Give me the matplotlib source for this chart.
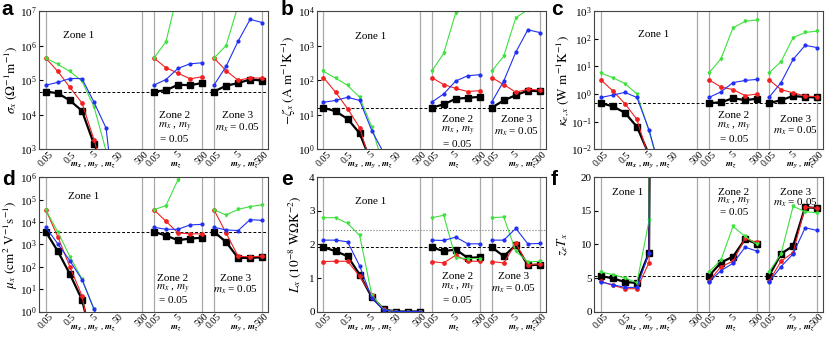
import numpy as np
import matplotlib.pyplot as plt

plt.rcParams['font.family'] = 'serif'
plt.rcParams['font.serif'] = ['Liberation Serif', 'DejaVu Serif']
plt.rcParams['mathtext.fontset'] = 'stix'

#%% DATA (zone 1: 9 points, zone 2: 5 points, zone 3: 5 points)

m_zone1 = [0.05, 0.158, 0.5, 1.58, 5, 15.8, 50, 158, 500]
m_zone23 = [0.05, 0.5, 5, 50, 500]
ticks_zone1 = ['0.05', '0.5', '5', '50', '500']
ticks_zone23 = ['0.05', '5', '500']

# a: sigma_x
sigma_black = [4.7e4, 4.2e4, 2.6e4, 1.3e4, 1.4e3, 250, 30, 3, 0.3,
               4.7e4, 5.1e4, 7.4e4, 7.2e4, 8.3e4,
               4.7e4, 6.9e4, 8.3e4, 1.05e5, 9.8e4]
sigma_red = [4.4e5, 1.8e5, 6.2e4, 2.2e4, 1.9e3, 100, 10, 1, 0.1,
             4.4e5, 2.3e5, 1.6e5, 1.1e5, 1.26e5,
             4.4e5, 1.9e5, 1.0e5, 1.17e5, 1.15e5]
sigma_green = [4.4e5, 2.9e5, 1.8e5, 9.5e4, 1.7e4, 900, 50, 5, 0.5,
               4.4e5, 1.3e6, 3.7e7, 1e8, 2e8,
               4.4e5, 1.0e6, 1.45e7, 6e7, 1e8]
sigma_blue = [7.2e4, 8.7e4, 1.12e5, 1.12e5, 2.3e4, 4.1e3, 4, 0.3, 0.1,
              7.2e4, 1.05e5, 2.2e5, 3.0e5, 3.2e5,
              7.2e4, 2.5e5, 1.35e6, 5.8e6, 4.7e6]

# b: -zeta_x
zeta_black = [16, 12.6, 7.6, 2.9, 0.39, 0.01, 1e-3, 1e-4, 1e-5,
              16, 20, 29, 31, 33,
              16, 26, 37, 50, 48]
zeta_red = [120, 45, 15, 4.2, 0.3, 0.01, 1e-3, 1e-4, 1e-5,
            120, 75, 58, 47, 50,
            120, 75, 45, 55, 52]
zeta_green = [180, 115, 71, 32, 4.5, 0.3, 0.01, 1e-3, 1e-4,
              180, 600, 9000, 1e5, 2e5,
              180, 500, 6500, 1.1e4, 2e4]
zeta_blue = [23, 26, 32, 26, 3.5, 0.77, 0.01, 1e-3, 1e-4,
             23, 40, 95, 135, 145,
             23, 95, 650, 2900, 2400]

# c: kappa_e,x
kappa_black = [0.47, 0.36, 0.21, 0.065, 0.0063, 1e-4, 1e-5, 1e-6, 1e-7,
               0.47, 0.5, 0.71, 0.6, 0.68,
               0.47, 0.6, 0.85, 0.78, 0.75]
kappa_red = [3.3, 1.3, 0.45, 0.12, 0.0045, 1e-4, 1e-5, 1e-6, 1e-7,
             3.3, 1.8, 1.45, 0.88, 1.0,
             3.3, 1.45, 1.1, 0.85, 0.8]
kappa_green = [5.8, 3.9, 2.4, 1.0, 0.045, 0.0013, 1e-5, 1e-6, 1e-7,
               5.8, 19, 250, 430, 480,
               5.8, 15, 110, 170, 190]
kappa_blue = [0.75, 0.92, 1.15, 0.75, 0.05, 0.0013, 1e-5, 1e-6, 1e-7,
              0.75, 1.2, 2.6, 3.1, 3.4,
              0.75, 2.6, 18, 58, 48]

# d: mu_x
mu_black = [3700, 500, 47, 3.4, 0.025, 1e-4, 1e-5, 1e-6, 1e-7,
            3700, 2500, 1550, 1850, 2000,
            3700, 1300, 250, 250, 270]
mu_red = [3.6e4, 2200, 100, 5.1, 0.01, 1e-4, 1e-5, 1e-6, 1e-7,
          3.6e4, 1.1e4, 3300, 3000, 3000,
          3.6e4, 3300, 300, 280, 300]
mu_green = [3.6e4, 3600, 290, 29, 1.26, 0.03, 1e-4, 1e-5, 1e-6,
            3.6e4, 5.5e4, 8e5, 3e6, 5e6,
            3.6e4, 2.1e4, 3.7e4, 5e4, 6e4]
mu_blue = [5900, 1070, 186, 27, 1.26, 0.03, 1e-4, 1e-5, 1e-6,
           5900, 4800, 4800, 7500, 8000,
           5900, 4500, 4200, 1.3e4, 1.2e4]

# e: L_x
lorenz_black = [1.92, 1.80, 1.65, 1.10, 0.43, 0.06, 0, 0, 0,
                1.92, 1.80, 1.85, 1.60, 1.62,
                1.92, 1.65, 1.98, 1.38, 1.40]
lorenz_red = [1.49, 1.50, 1.50, 1.05, 0.49, 0.06, 0, 0, 0,
              1.49, 1.45, 1.68, 1.50, 1.50,
              1.49, 1.45, 2.03, 1.40, 1.42]
lorenz_green = [2.80, 2.80, 2.63, 2.27, 0.50, 0.05, 0, 0, 0,
                2.80, 2.87, 1.60, 1.58, 1.58,
                2.80, 2.82, 1.80, 1.48, 1.50]
lorenz_blue = [2.13, 2.13, 2.08, 1.36, 0.40, 0.04, 0, 0, 0,
               2.13, 2.12, 2.22, 2.02, 2.02,
               2.13, 2.13, 2.48, 2.02, 2.03]
lorenz_degenerate = 2.44   # dotted reference line

# f: z_e T_x
zt_black = [5.3, 4.95, 4.4, 4.26, 8.8, 300, 3000, 3e4, 3e5,
            5.3, 7.3, 8.2, 10.8, 10.1,
            5.3, 8.6, 9.8, 15.6, 15.4]
zt_red = [4.5, 3.9, 3.4, 3.4, 7.3, 300, 3000, 3e4, 3e5,
          4.5, 6.7, 7.5, 10.9, 10.3,
          4.5, 7.5, 8.8, 15.6, 15.4]
zt_green = [5.9, 5.5, 5.0, 4.3, 13.6, 300, 3000, 3e4, 3e5,
            5.9, 7.7, 12.7, 11.2, 10.0,
            5.9, 8.6, 15.7, 14.9, 14.7]
zt_blue = [4.4, 4.0, 3.6, 3.6, 8.8, 300, 3000, 3e4, 3e5,
           4.4, 6.1, 7.2, 9.6, 9.0,
           4.4, 6.7, 8.6, 12.5, 12.1]

#%% HELPERS

zone_start = [0.0, 4.48, 6.97]
zone_scale = [1.0, 0.5, 0.5]


def xpos(m, zone):
    return zone_start[zone] + zone_scale[zone] * np.log10(np.asarray(m) / 0.05)


styles = [dict(color='black', lw=1.6, marker='s', ms=3.8),
          dict(color='#f22020', lw=0.8, marker='o', ms=2.4),
          dict(color='#3ee03e', lw=0.8, marker='v', ms=2.0),
          dict(color='#2030f5', lw=0.8, marker='o', ms=2.0)]


def draw_panel(ax, series, ylim, log, ylabel, labx, zone_txt, ref, letter):
    for vals, st in zip(series, styles):
        vals = np.asarray(vals, dtype=float)
        parts = [(vals[:9], m_zone1, 0), (vals[9:14], m_zone23, 1), (vals[14:], m_zone23, 2)]
        for v, m, z in parts:
            ax.plot(xpos(m, z), v, mec=st['color'], mfc=st['color'], **st)
    for z in range(3):
        for m in (0.05, 500):
            ax.axvline(xpos(m, z), color='#a8a8a8', lw=0.9, zorder=0)
    ax.axhline(ref, color='k', lw=0.7, ls=(0, (3, 2)), zorder=0.5)
    if log:
        ax.set_yscale('log')
        ax.minorticks_off()
    ax.set_ylim(ylim)
    ax.set_xlim(-0.28, 9.21)

    tpos = list(xpos([0.05, 0.5, 5, 50, 500], 0)) + list(xpos([0.05, 5, 500], 1)) + list(xpos([0.05, 5, 500], 2))
    ax.set_xticks(tpos)
    ax.set_xticklabels(ticks_zone1 + ticks_zone23 + ticks_zone23, rotation=45, ha='center', va='top', fontsize=7)
    ax.tick_params(axis='x', length=0, pad=0.5)
    ax.tick_params(axis='y', direction='in', length=3, labelsize=8, pad=1.5)
    for sp in ax.spines.values():
        sp.set_color('#444444')
    ax.set_ylabel(ylabel, fontsize=9.5)
    ax.yaxis.set_label_coords(labx, 0.5)

    tr = ax.get_xaxis_transform()
    (z1x, z1y), (z2x, z2y), (z3x, z3y), dy = zone_txt
    ax.text(z1x, z1y, 'Zone 1', transform=tr, ha='center', va='center', fontsize=8)
    ax.text(z2x, z2y, 'Zone 2', transform=tr, ha='center', va='center', fontsize=8)
    ax.text(z2x, z2y - dy, r'$m_x$ , $m_y$', transform=tr, ha='center', va='center', fontsize=8)
    ax.text(z2x, z2y - 2 * dy, '= 0.05', transform=tr, ha='center', va='center', fontsize=8)
    ax.text(z3x, z3y, 'Zone 3', transform=tr, ha='center', va='center', fontsize=8)
    ax.text(z3x, z3y - dy, r'$m_x$ = 0.05', transform=tr, ha='center', va='center', fontsize=8)

    yb = -0.118 if letter in 'abc' else -0.122
    ax.text(1.95, yb, r'$\mathbfit{m_x}$ , $\mathbfit{m_y}$ , $\mathbfit{m_z}$', transform=tr,
            ha='center', va='center', fontsize=6.5)
    ax.text(5.4, yb, r'$\mathbfit{m_z}$', transform=tr, ha='center', va='center', fontsize=6.5)
    ax.text(8.25, yb, r'$\mathbfit{m_y}$ , $\mathbfit{m_z}$', transform=tr, ha='center', va='center', fontsize=6.5)


#%% FIGURE

fig = plt.figure(figsize=(8.3, 3.41), dpi=100)
lefts = [0.0470, 0.3816, 0.7157]
w = 0.2759
rows = [(0.5622, 0.4050), (0.0865, 0.3930)]

panels = [
    ([sigma_black, sigma_red, sigma_green, sigma_blue], (1e3, 1e7), True,
     r'$\sigma_x\ (\Omega^{-1}\mathrm{m}^{-1})$', -0.087,
     ((1.35, 0.824), (5.33, 0.242), (7.93, 0.242), 0.085), sigma_black[0], 'a'),
    ([zeta_black, zeta_red, zeta_green, zeta_blue], (1, 1e4), True,
     r'$-\zeta_x\ (\mathrm{A\ m^{-1}K^{-1}})$', -0.082,
     ((1.94, 0.817), (5.55, 0.218), (7.99, 0.218), 0.09), zeta_black[0], 'b'),
    ([kappa_black, kappa_red, kappa_green, kappa_blue], (1e-2, 1e3), True,
     r'$\kappa_{e,x}\ (\mathrm{W\ m^{-1}K^{-1}})$', -0.095,
     ((2.2, 0.828), (5.51, 0.242), (8.08, 0.218), 0.085), kappa_black[0], 'c'),
    ([mu_black, mu_red, mu_green, mu_blue], (1, 1e6), True,
     r'$\mu_x\ (\mathrm{cm^2\ V^{-1}s^{-1}})$', -0.085,
     ((1.55, 0.856), (5.27, 0.25), (7.85, 0.25), 0.085), mu_black[0], 'd'),
    ([lorenz_black, lorenz_red, lorenz_green, lorenz_blue], (0, 4), False,
     r'$L_x\ (10^{-8}\ \mathrm{W\Omega K^{-2}})$', -0.060,
     ((1.97, 0.82), (5.55, 0.263), (7.88, 0.263), 0.09), lorenz_black[0], 'e'),
    ([zt_black, zt_red, zt_green, zt_blue], (0, 20), False,
     r'$z_e T_x$', -0.104,
     ((1.1, 0.89), (5.51, 0.89), (8.06, 0.89), 0.075), zt_black[0], 'f'),
]

letter_pos = {'a': (0.002, 0.955), 'b': (0.3386, 0.955), 'c': (0.6639, 0.955),
              'd': (0.002, 0.458), 'e': (0.3386, 0.458), 'f': (0.6639, 0.458)}

for i, p in enumerate(panels):
    r, c = divmod(i, 3)
    ax = fig.add_axes([lefts[c], rows[r][0], w, rows[r][1]])
    draw_panel(ax, *p)
    if p[-1] == 'e':
        ax.axhline(lorenz_degenerate, color='#777777', lw=0.8, ls=':', zorder=0.5)
        ax.set_yticks([0, 1, 2, 3, 4])
    if p[-1] == 'f':
        ax.set_yticks([0, 5, 10, 15, 20])
    fig.text(*letter_pos[p[-1]], p[-1], fontsize=15, fontweight='bold',
             family='Liberation Sans', ha='left', va='baseline')

plt.savefig('out.png', dpi=100)
